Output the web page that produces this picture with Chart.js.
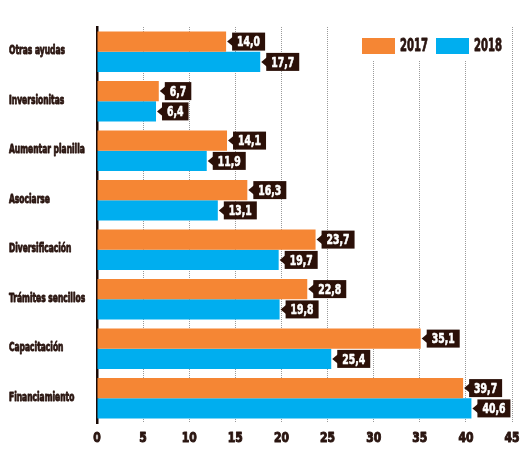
<!DOCTYPE html>
<html>
<head>
<meta charset="utf-8">
<script src="https://cdn.jsdelivr.net/npm/chart.js@4"></script>
<style>
  html, body { margin: 0; padding: 0; background: #fff; }
  #wrap { width: 530px; height: 467px; }
</style>
</head>
<body>
<div id="wrap"><canvas id="chart" width="530" height="467"></canvas></div>
<script>
const categories = ['Otras ayudas', 'Inversionitas', 'Aumentar planilla', 'Asociarse',
    'Diversificación', 'Trámites sencillos', 'Capacitación', 'Financiamiento'];
const seriesNames = ['2017', '2018'];
const values2017 = [14.0, 6.7, 14.1, 16.3, 23.7, 22.8, 35.1, 39.7];
const values2018 = [17.7, 6.4, 11.9, 13.1, 19.7, 19.8, 25.4, 40.6];
const xTicks = [0, 5, 10, 15, 20, 25, 30, 35, 40, 45];

const FONT = "'DejaVu Sans Condensed', 'DejaVu Sans', sans-serif";
const DARK = '#2a1510';
const ORANGE = '#F58634';
const BLUE = '#00AEEF';

// the original uses a very narrow heavy face; squeeze text horizontally to match
function squeezeFactor(ctx, font, sample, targetWidth) {
    ctx.save();
    ctx.font = font;
    const w = ctx.measureText(sample).width;
    ctx.restore();
    return targetWidth / w;
}

function drawSqueezed(ctx, text, x, y, align, k, weight) {
    const w = ctx.measureText(text).width * k;
    let left = x;
    if (align === 'center') left = x - w / 2;
    if (align === 'right') left = x - w;
    ctx.save();
    ctx.translate(left, y);
    ctx.scale(k, 1);
    ctx.textAlign = 'left';
    ctx.fillText(text, 0, 0);
    if (weight) {
        // fake a black weight
        ctx.strokeStyle = ctx.fillStyle;
        ctx.lineWidth = weight;
        ctx.lineJoin = 'round';
        ctx.strokeText(text, 0, 0);
    }
    ctx.restore();
    return w;
}

// category names on the left and numbers under the axis
const axisText = {
    id: 'axisText',
    afterDraw(chart) {
        const ctx = chart.ctx;
        const yScale = chart.scales.y;
        const xScale = chart.scales.x;
        ctx.save();
        ctx.fillStyle = DARK;
        ctx.textBaseline = 'middle';

        const catFont = `bold 12.5px ${FONT}`;
        const kCat = squeezeFactor(ctx, catFont, 'Otras ayudas', 56);
        ctx.font = catFont;
        categories.forEach((c, i) => {
            drawSqueezed(ctx, c, 9, yScale.getPixelForValue(i) - 1, 'left', kCat, 0.9);
        });

        const tickFont = `bold 14px ${FONT}`;
        const kTick = squeezeFactor(ctx, tickFont, '10', 15);
        ctx.font = tickFont;
        xTicks.forEach(v => {
            drawSqueezed(ctx, String(v), xScale.getPixelForValue(v), 438, 'center', kTick, 1);
        });
        ctx.restore();
    }
};

// value tags: dark box with a small arrow pointing to the bar end
const valueTags = {
    id: 'valueTags',
    afterDatasetsDraw(chart) {
        const ctx = chart.ctx;
        ctx.save();
        const tagFont = `bold 14px ${FONT}`;
        const k = squeezeFactor(ctx, tagFont, '14,0', 23);
        ctx.font = tagFont;
        ctx.textBaseline = 'middle';
        chart.data.datasets.forEach((ds, di) => {
            chart.getDatasetMeta(di).data.forEach((bar, i) => {
                const txt = ds.data[i].toFixed(1).replace('.', ',');
                const w = ctx.measureText(txt).width * k + 10;
                const h = 18;
                const x0 = bar.x + 6;
                const y = bar.y;
                ctx.fillStyle = '#2b1008';
                ctx.beginPath();
                ctx.moveTo(bar.x + 1, y);
                ctx.lineTo(x0 + 1, y - 5);
                ctx.lineTo(x0 + 1, y + 5);
                ctx.closePath();
                ctx.fill();
                ctx.fillRect(x0, y - h / 2, w, h);
                ctx.fillStyle = '#fff';
                drawSqueezed(ctx, txt, x0 + w / 2, y + 1, 'center', k, 0.6);
            });
        });
        ctx.restore();
    }
};

// legend sitting inside the plot, top right, on a white patch
const boxLegend = {
    id: 'boxLegend',
    afterDraw(chart) {
        const ctx = chart.ctx;
        ctx.save();
        ctx.fillStyle = '#fff';
        ctx.fillRect(356, 26, 150, 34);
        const items = [
            { x: 362, color: ORANGE, label: seriesNames[0] },
            { x: 436, color: BLUE, label: seriesNames[1] }
        ];
        const legFont = `bold 17px ${FONT}`;
        const k = squeezeFactor(ctx, legFont, '2017', 28);
        ctx.font = legFont;
        ctx.textBaseline = 'middle';
        items.forEach(it => {
            ctx.fillStyle = it.color;
            ctx.fillRect(it.x, 38, 33, 16);
            ctx.fillStyle = DARK;
            drawSqueezed(ctx, it.label, it.x + 38, 47, 'left', k, 0.8);
        });
        ctx.restore();
    }
};

new Chart(document.getElementById('chart'), {
    type: 'bar',
    data: {
        labels: categories,
        datasets: [
            { label: seriesNames[0], data: values2017, backgroundColor: ORANGE },
            { label: seriesNames[1], data: values2018, backgroundColor: BLUE }
        ]
    },
    options: {
        indexAxis: 'y',
        responsive: false,
        animation: false,
        layout: { padding: { left: 9, right: 18, top: 27, bottom: 0 } },
        datasets: { bar: { categoryPercentage: 0.82, barPercentage: 1 } },
        plugins: {
            legend: { display: false },
            tooltip: { enabled: false }
        },
        scales: {
            x: {
                min: 0,
                max: 45,
                afterBuildTicks: scale => { scale.ticks = xTicks.map(v => ({ value: v })); },
                afterFit: scale => { scale.height = 44; },
                border: { display: false, dash: [1, 1] },
                grid: {
                    color: ctx => ctx.index === 0 ? 'rgba(0,0,0,0)' : '#9a9a9a',
                    lineWidth: 1,
                    drawTicks: false
                },
                ticks: { display: false }
            },
            y: {
                afterFit: scale => { scale.width = 88; },
                border: { display: true, color: '#1a0a06', width: 2.5 },
                grid: { display: false },
                ticks: { display: false }
            }
        }
    },
    plugins: [valueTags, boxLegend, axisText]
});
</script>
</body>
</html>
